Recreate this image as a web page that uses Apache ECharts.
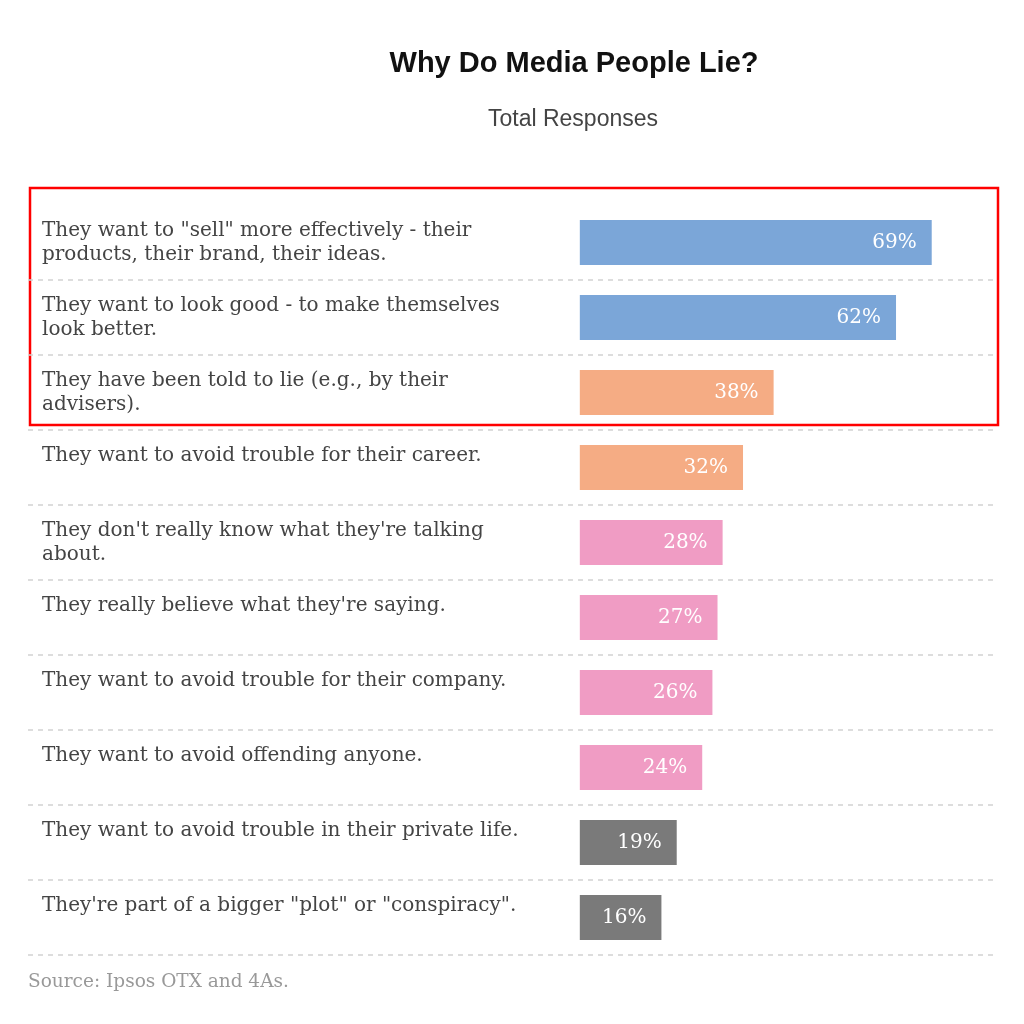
<!DOCTYPE html>
<head>
    <meta charset="UTF-8">
    <title>Why Do Media People Lie?</title>
    <script src="https://cdn.jsdelivr.net/npm/echarts@6/dist/echarts.min.js"></script>
</head>
<body style="margin:0;background:#fff;">
<div id="chart" style="height:1024px;width:1024px;"></div>
<script type="text/javascript">

    var reasons = [
        'They want to "sell" more effectively - their\nproducts, their brand, their ideas.',
        'They want to look good - to make themselves\nlook better.',
        'They have been told to lie (e.g., by their\nadvisers).',
        'They want to avoid trouble for their career.',
        "They don't really know what they're talking\nabout.",
        "They really believe what they're saying.",
        'They want to avoid trouble for their company.',
        'They want to avoid offending anyone.',
        'They want to avoid trouble in their private life.',
        'They\'re part of a bigger "plot" or "conspiracy".'
    ];
    var percents = [69, 62, 38, 32, 28, 27, 26, 24, 19, 16];
    var groups = ['blue', 'blue', 'orange', 'orange', 'pink', 'pink', 'pink', 'pink', 'grey', 'grey'];

    var palette = {blue: '#7ba6d8', orange: '#f5ac84', pink: '#f09cc4', grey: '#7a7a7a'};
    var serif = '"DejaVu Serif", Georgia, serif';
    var sans = '"Liberation Sans", Arial, sans-serif';

    var myChart = echarts.init(document.getElementById('chart'));

    myChart.setOption({
        animation: false,
        title: [
            {
                text: 'Why Do Media People Lie?',
                left: 569, top: 44, textAlign: 'center',
                textStyle: {fontFamily: sans, fontSize: 29, fontWeight: 'bold', color: '#111'}
            },
            {
                text: 'Total Responses',
                left: 568, top: 103, textAlign: 'center',
                textStyle: {fontFamily: sans, fontSize: 23, fontWeight: 'normal', color: '#444'}
            },
            {
                text: 'Source: Ipsos OTX and 4As.',
                left: 23, top: 968,
                textStyle: {fontFamily: serif, fontSize: 18.5, fontWeight: 'normal', color: '#999'}
            }
        ],
        grid: {left: 28, right: 27, top: 205, bottom: 69},
        xAxis: {
            type: 'value',
            min: -108.2,
            max: 81.8,
            show: false
        },
        yAxis: {
            type: 'category',
            inverse: true,
            data: reasons,
            axisLine: {show: false},
            axisTick: {show: false},
            splitLine: {
                show: true,
                showMinLine: false,
                lineStyle: {color: '#d2d2d2', width: 1.5, type: [5, 5]}
            },
            axisLabel: {
                align: 'left',
                margin: -14,
                fontFamily: serif,
                fontSize: 20,
                lineHeight: 24,
                color: '#444',
                formatter: function (v) {
                    return v.indexOf('\n') < 0 ? v + '\n ' : v;
                }
            }
        },
        series: [{
            type: 'bar',
            barWidth: 45,
            data: percents.map(function (p, i) {
                return {value: p, itemStyle: {color: palette[groups[i]]}};
            }),
            label: {
                show: true,
                position: 'insideRight',
                distance: 15,
                color: '#fff',
                fontFamily: serif,
                fontSize: 20,
                formatter: '{c}%'
            }
        }],
        graphic: [{
            type: 'rect',
            shape: {x: 30, y: 188, width: 968, height: 237},
            style: {fill: 'none', stroke: '#ff0000', lineWidth: 2.5}
        }]
    });
</script>
</body>
</html>
